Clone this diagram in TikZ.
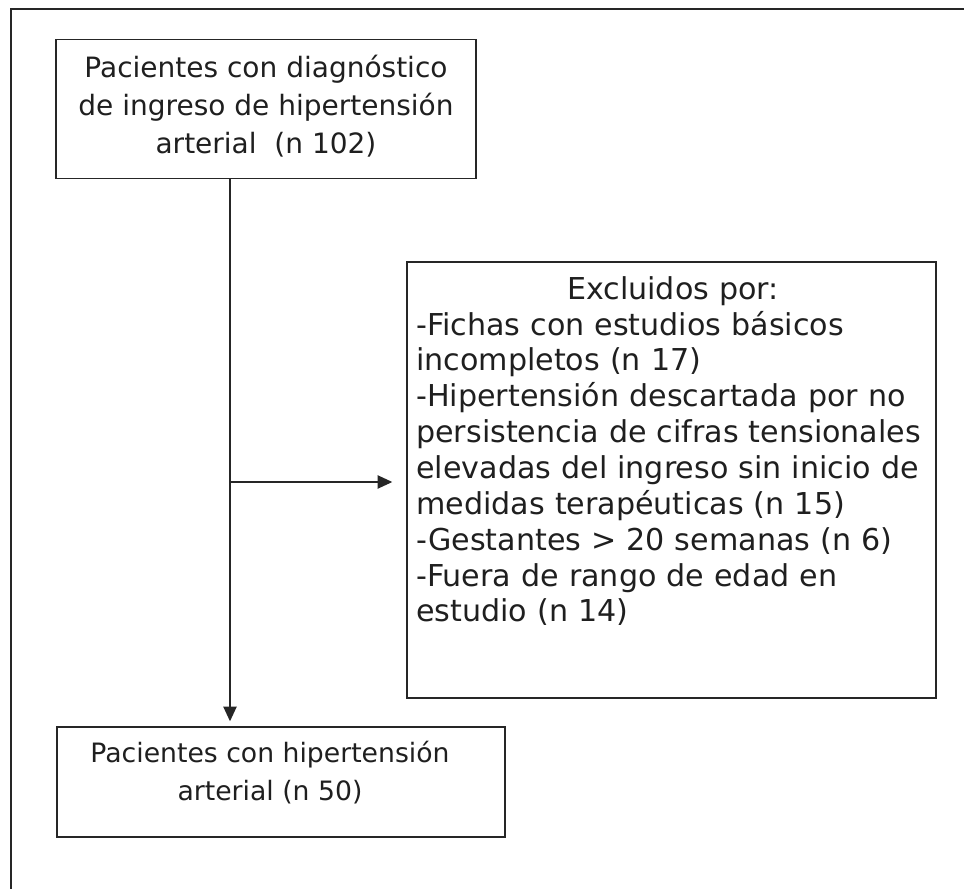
\documentclass[tikz,border=0pt]{standalone}
\usepackage{fontspec}
\setmainfont{DejaVu Sans}
\usetikzlibrary{arrows.meta}
\begin{document}
\begin{tikzpicture}[x=0.75pt,y=-0.75pt,
  boxshape/.style={draw=black!85, line width=1.1pt, rectangle, inner sep=0pt},
  conn/.style={draw=black!85, line width=0.9pt},
  arr/.style={conn, -{Triangle[length=11pt,width=10pt]}},
  txt/.style={inner sep=0pt, text=black!88}]
\useasboundingbox (0,0) rectangle (964,889);
% outer frame (only top and left edges visible)
\draw[conn, line width=1.1pt] (964,9) -- (11,9) -- (11,889);
% boxes
\node[boxshape, minimum width=315pt, minimum height=104.25pt] (top) at (266,109) {};
\node[boxshape, minimum width=396.75pt, minimum height=327pt] (excl) at (671.5,480) {};
\node[boxshape, minimum width=336pt, minimum height=82.5pt] (final) at (281,782) {};
% texts
\node[txt, align=center, font=\fontsize{21}{28.5}\selectfont, anchor=north] (toptext) at (266,55)
  {Pacientes con diagnóstico\\de ingreso de hipertensión\\arterial~~(n 102)};
\node[txt, align=left, font=\fontsize{22.6}{26.9}\selectfont, anchor=north west, text width=385pt] (excltext) at (416,276)
  {\centering Excluidos por:\par
   \raggedright -Fichas con estudios básicos\\
   incompletos (n 17)\\
   -Hipertensión descartada por no\\
   persistencia de cifras tensionales\\
   elevadas del ingreso sin inicio de\\
   medidas terapéuticas (n 15)\\
   -Gestantes > 20 semanas (n 6)\\
   -Fuera de rango de edad en\\
   estudio (n 14)};
\node[txt, align=center, font=\fontsize{20}{28.5}\selectfont, anchor=north] (finaltext) at (270,741)
  {Pacientes con hipertensión\\arterial (n 50)};
% connectors
\coordinate (split) at (230,482);
\draw[conn] (top.south -| split) -- (split);
\draw[arr, shorten >=3.75pt] (split) -- (split |- final.north);
\draw[arr, shorten >=10.5pt] (split) -- (split -| excl.west);
\end{tikzpicture}
\end{document}
